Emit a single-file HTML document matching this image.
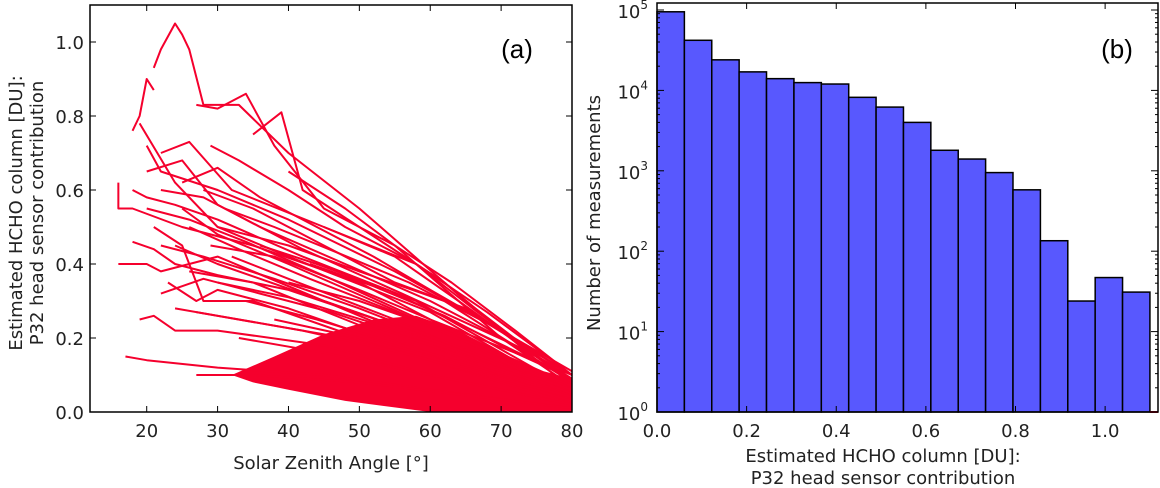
<!DOCTYPE html>
<html><head><meta charset="utf-8"><style>
body{margin:0;background:#fff}
svg{display:block;font-family:"DejaVu Sans","Liberation Sans",sans-serif}
</style></head><body>
<svg id="c" width="1160" height="488" viewBox="0 0 1160 488"></svg>
<script>
// Panel (a) data: each curve is [sza, value] pairs
const curveA=[
[[21,0.93],[22,0.98],[24,1.05],[25,1.02],[26,0.98],[28,0.83],[33,0.83],[40,0.7],[50,0.55],[65,0.3],[80,0.08]],
[[18,0.76],[19,0.8],[20,0.9],[21,0.87]],
[[27,0.83],[30,0.82],[34,0.86],[38,0.72],[45,0.55],[55,0.45],[70,0.2],[80,0.07]],
[[35,0.75],[39,0.81],[42,0.6],[50,0.5],[62,0.35],[80,0.06]],
[[16,0.62],[16,0.55],[18,0.55],[25,0.5],[35,0.45],[50,0.35],[65,0.2],[80,0.03]],
[[16,0.4],[20,0.4],[22,0.38],[30,0.42],[45,0.3],[60,0.18],[80,0.02]],
[[19,0.25],[21,0.26],[24,0.22],[30,0.22],[45,0.18],[60,0.1],[80,0.02]],
[[17,0.15],[20,0.14],[30,0.12],[45,0.1],[60,0.06],[80,0.01]],
[[27,0.1],[35,0.1],[50,0.08],[80,0.01]],
[[20,0.72],[22,0.65],[30,0.6],[40,0.52],[55,0.38],[70,0.22],[80,0.1]],
[[22,0.7],[26,0.73],[32,0.6],[45,0.5],[58,0.4],[66,0.28],[80,0.08]],
[[19,0.78],[24,0.62],[30,0.5],[40,0.42],[60,0.27],[80,0.05]],
[[21,0.5],[25,0.45],[28,0.3],[35,0.3],[50,0.2],[80,0.02]],
[[23,0.35],[27,0.3],[30,0.33],[40,0.28],[55,0.18],[80,0.03]],
[[25,0.55],[30,0.48],[40,0.4],[52,0.3],[70,0.15],[80,0.05]],
[[28,0.6],[35,0.55],[45,0.45],[55,0.35],[65,0.28],[80,0.1]],
[[30,0.5],[40,0.45],[50,0.38],[62,0.3],[80,0.08]],
[[24,0.45],[30,0.4],[45,0.3],[60,0.2],[80,0.04]],
[[26,0.38],[35,0.35],[48,0.25],[65,0.12],[80,0.03]],
[[32,0.42],[40,0.36],[55,0.25],[70,0.12],[80,0.04]],
[[35,0.38],[45,0.3],[60,0.2],[80,0.06]],
[[22,0.6],[28,0.58],[36,0.5],[48,0.4],[60,0.3],[75,0.15],[80,0.09]],
[[40,0.35],[50,0.3],[65,0.2],[80,0.07]],
[[38,0.25],[50,0.2],[65,0.12],[80,0.04]],
[[33,0.2],[45,0.16],[60,0.1],[80,0.02]],
[[20,0.65],[25,0.68],[30,0.56],[42,0.44],[56,0.32],[72,0.18],[80,0.1]],
[[29,0.45],[38,0.42],[50,0.33],[60,0.25],[72,0.16],[80,0.1]],
[[40,0.65],[48,0.55],[55,0.45],[63,0.35],[72,0.22],[80,0.1]],
[[45,0.5],[55,0.42],[64,0.3],[80,0.08]],
[[34,0.3],[44,0.25],[56,0.18],[80,0.05]],
[[18,0.6],[20,0.58],[24,0.56],[30,0.52],[42,0.42],[58,0.3],[80,0.06]],
[[20,0.55],[26,0.52],[34,0.46],[46,0.36],[62,0.22],[80,0.04]],
[[22,0.45],[28,0.42],[38,0.36],[50,0.28],[66,0.16],[80,0.05]],
[[26,0.5],[33,0.44],[43,0.36],[55,0.27],[70,0.15],[80,0.07]],
[[27,0.27],[36,0.24],[48,0.2],[62,0.13],[80,0.03]],
[[30,0.35],[40,0.31],[52,0.24],[66,0.15],[80,0.06]],
[[36,0.45],[44,0.4],[54,0.33],[66,0.22],[80,0.09]],
[[31,0.55],[38,0.5],[47,0.43],[57,0.35],[68,0.24],[80,0.1]],
[[43,0.4],[52,0.34],[62,0.26],[72,0.16],[80,0.09]],
[[25,0.62],[30,0.66],[36,0.58],[44,0.5],[52,0.42],[60,0.33],[70,0.22],[80,0.11]],
[[29,0.72],[33,0.68],[40,0.6],[48,0.5],[58,0.4],[68,0.27],[80,0.1]],
[[24,0.28],[30,0.26],[42,0.22],[56,0.16],[80,0.04]],
[[22,0.32],[28,0.36],[36,0.32],[46,0.27],[60,0.18],[80,0.05]],
[[18,0.46],[21,0.44],[24,0.4],[30,0.37],[40,0.33],[54,0.24],[80,0.05]]
];
const denseA=[[32,0.1],[38,0.15],[45,0.21],[52,0.25],[58,0.26],[64,0.22],[70,0.16],[76,0.11],[80,0.09],[80,0],[60,0],[48,0.03],[40,0.06],[35,0.08]];
const xTicksA=[20,30,40,50,60,70,80];
const yTicksA=[0.0,0.2,0.4,0.6,0.8,1.0];
// Panel (b) data
const binEdges=[0,0.0611,0.1222,0.1833,0.2444,0.3056,0.3667,0.4278,0.4889,0.55,0.6111,0.6722,0.7333,0.7944,0.8556,0.9167,0.9778,1.0389,1.1];
const counts=[95000,42000,24000,17000,14000,12500,12000,8200,6200,4000,1800,1400,950,580,135,24,47,31];
const xTicksB=[0.0,0.2,0.4,0.6,0.8,1.0];
const yDecB=[0,1,2,3,4,5];

const svg=document.getElementById('c');
const NS='http://www.w3.org/2000/svg';
function mk(t,a,p){const e=document.createElementNS(NS,t);for(const k in a)e.setAttribute(k,a[k]);(p||svg).appendChild(e);return e;}
function txt(x,y,s,a,p){const e=mk('text',Object.assign({x:x,y:y},a),p);e.textContent=s;return e;}

// ---- Panel A
const A={l:90,r:572,t:5,b:412,x0:12,x1:80,y0:0,y1:1.1};
const ax=v=>A.l+(v-A.x0)/(A.x1-A.x0)*(A.r-A.l);
const ay=v=>A.b-(v-A.y0)/(A.y1-A.y0)*(A.b-A.t);
const gA=mk('g',{});


const dense=mk('polygon',{points:denseA.map(p=>ax(p[0])+','+ay(p[1])).join(' '),fill:'#f5002d'},gA);


curveA.forEach((c,i)=>{
  const pl=mk('polyline',{points:c.map(p=>ax(p[0])+','+ay(p[1])).join(' '),fill:'none',stroke:'#f5002d','stroke-width':2,'stroke-linejoin':'round'},gA);
  
  
});
const frA=mk('rect',{x:A.l,y:A.t,width:A.r-A.l,height:A.b-A.t,fill:'none',stroke:'#000','stroke-width':1.5},gA);


xTicksA.forEach(v=>{
  mk('line',{x1:ax(v),x2:ax(v),y1:A.b,y2:A.b-6,stroke:'#000'},gA);
  mk('line',{x1:ax(v),x2:ax(v),y1:A.t,y2:A.t+6,stroke:'#000'},gA);
  const t=txt(ax(v),437,String(v),{'text-anchor':'middle','font-size':18,fill:'#222'},gA);
  
  
});
yTicksA.forEach(v=>{
  mk('line',{x1:A.l,x2:A.l+6,y1:ay(v),y2:ay(v),stroke:'#000'},gA);
  mk('line',{x1:A.r,x2:A.r-6,y1:ay(v),y2:ay(v),stroke:'#000'},gA);
  const t=txt(84,ay(v)+7,v.toFixed(1),{'text-anchor':'end','font-size':18,fill:'#222'},gA);
  
  
});
let t=txt(331,469,'Solar Zenith Angle [°]',{'text-anchor':'middle','font-size':18,fill:'#222'},gA);

t=mk('text',{transform:'translate(22,213) rotate(-90)','text-anchor':'middle','font-size':18,fill:'#222'},gA);
t.innerHTML='<tspan x="0" dy="0">Estimated HCHO column [DU]:</tspan><tspan x="0" dy="21">P32 head sensor contribution</tspan>';

t=txt(517,58,'(a)',{'text-anchor':'middle','font-size':26,fill:'#000','font-family':'Liberation Sans, sans-serif'},gA);


// ---- Panel B
const B={l:657,r:1158,t:10,b:412,x0:0,x1:1.118,d0:0,d1:5};
const bx=v=>B.l+(v-B.x0)/(B.x1-B.x0)*(B.r-B.l);
const by=v=>B.b-(Math.log10(v)-B.d0)/(B.d1-B.d0)*(B.b-B.t);
const gB=mk('g',{});


counts.forEach((c,i)=>{
  const r=mk('rect',{x:bx(binEdges[i]),y:by(c),width:bx(binEdges[i+1])-bx(binEdges[i]),height:B.b-by(c),fill:'#5858fe',stroke:'#000','stroke-width':1.5},gB);
  
  
});
mk('line',{x1:bx(1.1),x2:B.r,y1:B.b,y2:B.b,stroke:'#e00020','stroke-width':2},gB);
const frB=mk('rect',{x:B.l,y:B.t-7,width:B.r-B.l,height:B.b-B.t+7,fill:'none',stroke:'#000','stroke-width':1.5},gB);


xTicksB.forEach(v=>{
  mk('line',{x1:bx(v),x2:bx(v),y1:B.b,y2:B.b-6,stroke:'#000'},gB);
  mk('line',{x1:bx(v),x2:bx(v),y1:B.t-7,y2:B.t-1,stroke:'#000'},gB);
  const t=txt(bx(v),437,v.toFixed(1),{'text-anchor':'middle','font-size':18,fill:'#222'},gB);
  
  
});
yDecB.forEach(d=>{
  const y=by(Math.pow(10,d));
  mk('line',{x1:B.l,x2:B.l+7,y1:y,y2:y,stroke:'#000'},gB);
  mk('line',{x1:B.r,x2:B.r-7,y1:y,y2:y,stroke:'#000'},gB);
  if(d<5){for(let m=2;m<10;m++){const ym=by(m*Math.pow(10,d));mk('line',{x1:B.l,x2:B.l+3,y1:ym,y2:ym,stroke:'#000'},gB);mk('line',{x1:B.r,x2:B.r-3,y1:ym,y2:ym,stroke:'#000'},gB);}}
  const t=mk('text',{x:648,y:y+8,'text-anchor':'end','font-size':18,fill:'#222'},gB);
  t.innerHTML='10<tspan dy="-9" font-size="12">'+d+'</tspan>';
  
  
});
t=mk('text',{'text-anchor':'middle','font-size':18,fill:'#222'},gB);
t.innerHTML='<tspan x="883" y="462">Estimated HCHO column [DU]:</tspan><tspan x="883" y="484">P32 head sensor contribution</tspan>';

t=txt(0,0,'Number of measurements',{transform:'translate(600,213) rotate(-90)','text-anchor':'middle','font-size':18,fill:'#222'},gB);

t=txt(1117,58,'(b)',{'text-anchor':'middle','font-size':26,fill:'#000','font-family':'Liberation Sans, sans-serif'},gB);

</script>
</body></html>
